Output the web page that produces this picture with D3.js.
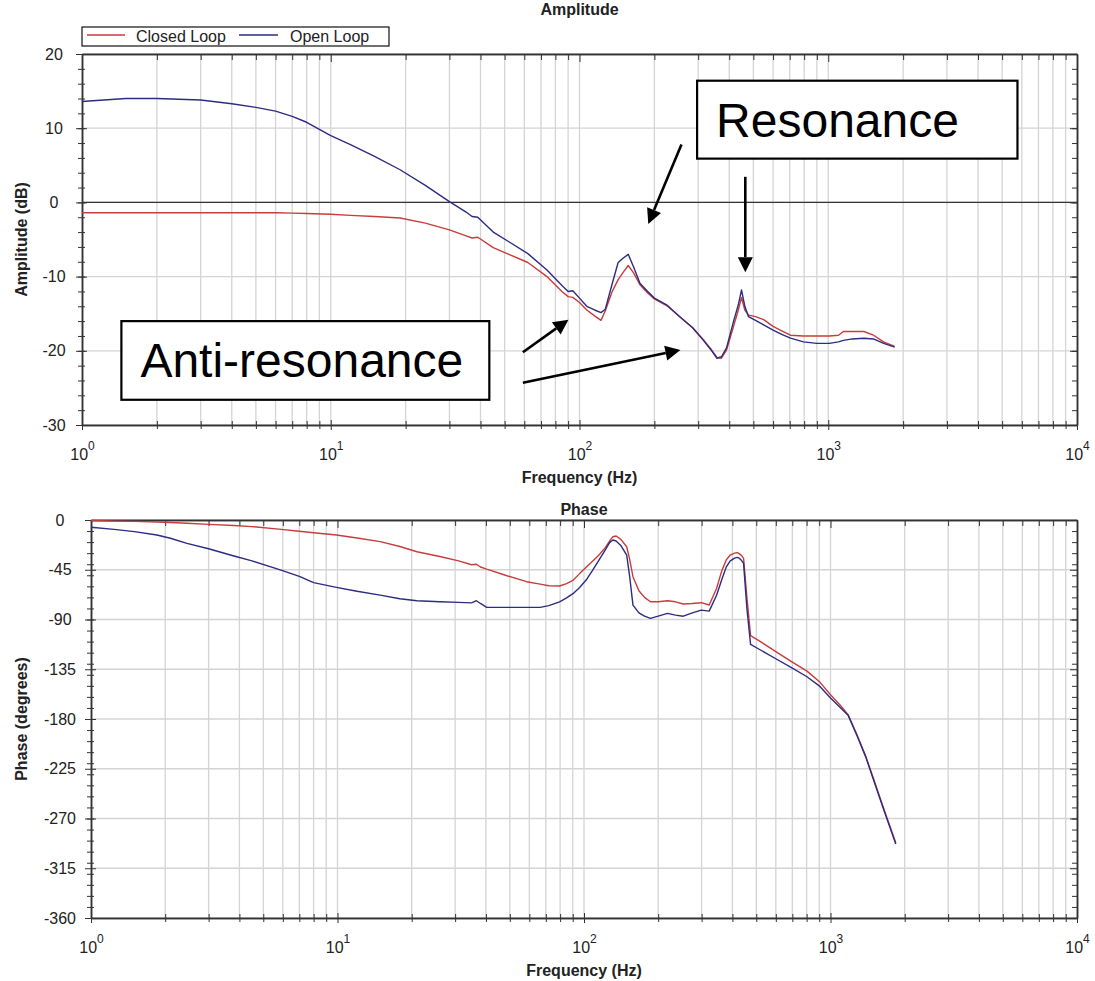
<!DOCTYPE html>
<html>
<head>
<meta charset="utf-8">
<script src="https://cdn.jsdelivr.net/npm/d3@7"></script>
<style>
body { margin: 0; background: #fff; }
svg text { font-family: Arial, "Liberation Sans", sans-serif; }
</style>
</head>
<body>
<svg width="1095" height="981"></svg>
<script>
// --- data ---
const ampFreq = [1, 1.5, 2, 3, 4, 5, 6, 7, 8, 10, 12, 15, 19, 24, 30, 35, 37, 39, 45, 52,
  62, 74, 85, 90, 94, 100, 107, 115, 122, 127, 135, 143, 150, 157, 165, 175, 188, 200, 224, 253,
  285, 313, 340, 357, 372, 390, 418, 435, 448, 462, 478, 510, 550, 600, 650, 705, 795, 900, 1010, 1100,
  1150, 1250, 1390, 1520, 1670, 1850];
const ampClosed = [-1.4, -1.4, -1.4, -1.4, -1.4, -1.4, -1.4, -1.45, -1.5, -1.6, -1.75, -1.9, -2.1, -2.8, -3.7, -4.5, -4.8, -4.7, -6.1, -7.0,
  -8.1, -10.0, -12.0, -12.7, -12.8, -13.5, -14.5, -15.3, -15.9, -14.6, -12.1, -10.4, -9.4, -8.5, -9.5, -11.1, -12.2, -13.0, -13.9, -15.4,
  -16.9, -18.4, -19.9, -20.9, -21.0, -19.9, -16.5, -14.5, -12.8, -14.5, -15.2, -15.4, -15.8, -16.7, -17.3, -17.9, -18.0, -18.0, -18.0, -17.9,
  -17.4, -17.4, -17.4, -17.9, -18.8, -19.4];
const ampOpen = [13.6, 14.0, 14.0, 13.8, 13.3, 12.8, 12.3, 11.6, 10.8, 9.0, 7.8, 6.2, 4.4, 2.3, 0.1, -1.3, -1.9, -2.0, -4.0, -5.3,
  -6.9, -9.1, -11.2, -12.0, -11.9, -12.9, -14.0, -14.5, -14.85, -14.4, -11.1, -8.1, -7.5, -7.0, -8.7, -10.9, -12.0, -12.9, -13.8, -15.4,
  -16.9, -18.5, -20.0, -21.0, -20.8, -19.6, -15.8, -13.8, -11.8, -14.0, -15.4, -15.9, -16.5, -17.2, -17.8, -18.3, -18.8, -19.0, -19.0, -18.8,
  -18.6, -18.4, -18.3, -18.4, -19.0, -19.5];

const phaseFreq = [1, 1.24, 1.5, 1.85, 2.1, 2.45, 3, 3.8, 4.5, 5.9, 7, 8, 9.9, 12, 14.9, 17.9, 21, 26, 31, 35,
  36.6, 38, 40.3, 48, 58.5, 66.4, 72, 79.6, 85, 90.5, 96, 102, 108, 115, 122, 127, 131, 135, 141, 149,
  153, 158, 167, 176, 186, 200, 218, 235, 253, 275, 299, 322, 345, 362, 378, 392, 408, 418, 424, 435,
  444, 458, 474, 520, 600, 700, 803, 900, 1000, 1100, 1178, 1280, 1391, 1500, 1650, 1840];
const phaseClosed = [-0.5, -1, -1.2, -1.8, -2.2, -3.0, -4.0, -5.0, -6.0, -8.5, -10.2, -11.5, -13.6, -16.3, -19.6, -24, -28.7, -33, -37, -40.5,
  -40, -42.5, -44.5, -50, -55.8, -58, -59.5, -59.7, -57.5, -54.3, -48.5, -42.8, -37.5, -31.7, -25, -19, -15.1, -14.5, -17.5, -24.2,
  -35, -51.3, -64, -70, -74, -74, -73, -74, -76, -75.5, -74.8, -76.9, -62, -46, -36, -31.7, -30, -29.5, -30.2, -32,
  -34.7, -70, -104.6, -110, -119, -128.5, -136.7, -146, -158, -168, -176, -194, -214, -235, -262, -292];
const phaseOpen = [-6.6, -8.5, -10.5, -13.6, -16.5, -21.2, -26, -32.6, -37, -45.3, -51, -56.7, -61, -64.5, -67.9, -71.2, -73, -74, -74.5, -75,
  -73, -75.5, -79, -79, -79, -79, -77.5, -74, -70.5, -66.4, -61, -54.3, -46, -36.2, -27, -20.5, -18.1, -19, -23, -31.7,
  -50, -77, -84, -87, -89, -87, -84.5, -86, -87, -84, -81.5, -82.4, -68, -54, -42.3, -37, -34.5, -33.8, -34.2, -36.5,
  -39.2, -80, -112.5, -117.6, -125.5, -134, -141.8, -150, -161, -170, -176.5, -195, -214.5, -236, -263, -293];

const seriesNames = ["Closed Loop", "Open Loop"];
const seriesColors = ["#c83c3c", "#2c2c82"];
const decadeTicks = [1, 10, 100, 1000, 10000];
const ampTicks = [20, 10, 0, -10, -20, -30];
const phaseTicks = [0, -45, -90, -135, -180, -225, -270, -315, -360];

// annotations, in chart units (Hz, dB)
const noteBoxes = [
  {text: "Resonance", f: [297, 5763], db: [16.4, 5.9]},
  {text: "Anti-resonance", f: [1.44, 43.4], db: [-16.0, -26.6]}
];
const noteArrows = [
  {from: [257, 7.8], to: [189, -2.9]},
  {from: [464, 3.45], to: [464, -9.4]},
  {from: [59.2, -20.2], to: [90.3, -15.8]},
  {from: [59.2, -24.3], to: [254.5, -19.9]}
];

// --- drawing ---
const svg = d3.select("svg");
const axisColor = "#333";
const gridColor = "#d4d4d4";

const xMinor = [];
for (let d = 1; d < 10000; d *= 10) for (let k = 2; k < 10; k++) xMinor.push(d * k);

function styleAxis(a, w) {
  a.attr("font-size", 16).attr("font-family", null);
  a.selectAll("path, line").attr("stroke", axisColor);
  a.select(".domain").attr("stroke-width", w || 1.5);
  a.selectAll("text").attr("fill", "#222");
}

function drawPanel(p) {
  const x = d3.scaleLog().domain([1, 10000]).range([p.left, p.right]);
  const y = d3.scaleLinear().domain(p.yDomain).range([p.bottom, p.top]);
  const yMinor = d3.range(p.yDomain[0], p.yDomain[1] + 0.001, p.yStep);
  const g = svg.append("g");

  // grid
  g.append("g").selectAll("line").data(xMinor.concat([10, 100, 1000])).join("line")
    .attr("x1", d => x(d)).attr("x2", d => x(d))
    .attr("y1", p.top).attr("y2", p.bottom)
    .attr("stroke", gridColor).attr("stroke-width", 1.3);
  g.append("g").selectAll("line").data(p.yTicks).join("line")
    .attr("x1", p.left).attr("x2", p.right)
    .attr("y1", d => y(d)).attr("y2", d => y(d))
    .attr("stroke", gridColor).attr("stroke-width", 1.3);

  if (p.zeroLine) {
    g.append("line")
      .attr("x1", p.left).attr("x2", p.right)
      .attr("y1", y(0)).attr("y2", y(0))
      .attr("stroke", axisColor).attr("stroke-width", 1.2);
  }

  // top + right (inward ticks)
  g.append("g").attr("transform", `translate(0,${p.top})`)
    .call(d3.axisTop(x).tickValues(xMinor).tickSize(-6).tickSizeOuter(0).tickFormat(""))
    .call(styleAxis);
  g.append("g").attr("transform", `translate(0,${p.top})`)
    .call(d3.axisTop(x).tickValues(decadeTicks).tickSize(-8).tickSizeOuter(0).tickFormat(""))
    .call(styleAxis);
  g.append("g").attr("transform", `translate(${p.right},0)`)
    .call(d3.axisRight(y).tickValues(yMinor).tickSize(-5).tickSizeOuter(0).tickFormat(""))
    .call(styleAxis);
  g.append("g").attr("transform", `translate(${p.right},0)`)
    .call(d3.axisRight(y).tickValues(p.yTicks).tickSize(-7).tickSizeOuter(0).tickFormat(""))
    .call(styleAxis);

  // bottom
  g.append("g").attr("transform", `translate(0,${p.bottom})`)
    .call(d3.axisBottom(x).tickValues(xMinor).tickSize(4).tickSizeOuter(0).tickFormat(""))
    .call(styleAxis)
    .call(a => a.selectAll(".tick line").attr("y1", -4));
  g.append("g").attr("transform", `translate(0,${p.bottom})`)
    .call(d3.axisBottom(x).tickValues(decadeTicks).tickSize(5).tickSizeOuter(0))
    .call(styleAxis)
    .call(a => a.selectAll(".tick line").attr("y1", -5))
    .call(a => a.selectAll(".tick text").text(null)
      .attr("y", 35).attr("dy", null).attr("text-anchor", "middle")
      .each(function(d) {
        const t = d3.select(this);
        t.append("tspan").text("10");
        t.append("tspan").attr("dy", -10).attr("font-size", 12).text(Math.round(Math.log10(d)));
      }));

  // left
  g.append("g").attr("transform", `translate(${p.left},0)`)
    .call(d3.axisLeft(y).tickValues(yMinor).tickSize(4).tickSizeOuter(0).tickFormat(""))
    .call(styleAxis)
    .call(a => a.selectAll(".tick line").attr("x1", 3));
  g.append("g").attr("transform", `translate(${p.left},0)`)
    .call(d3.axisLeft(y).tickValues(p.yTicks).tickSize(6).tickSizeOuter(0).tickFormat(d => String(d)))
    .call(styleAxis)
    .call(a => a.selectAll(".tick line").attr("x1", 5))
    .call(a => a.selectAll(".tick text").attr("x", -p.labelOffset).attr("text-anchor", "middle"));

  // curves
  const line = d3.line().x(d => x(d[0])).y(d => y(d[1]));
  p.series.forEach((vals, i) => {
    g.append("path")
      .datum(p.freq.map((f, j) => [f, vals[j]]))
      .attr("d", line)
      .attr("fill", "none")
      .attr("stroke", seriesColors[i])
      .attr("stroke-width", 1.4)
      .attr("stroke-linejoin", "round");
  });

  // titles
  const mid = (p.left + p.right) / 2;
  g.append("text").attr("x", mid).attr("y", p.titleY)
    .attr("text-anchor", "middle").attr("font-size", 16).attr("font-weight", "bold")
    .attr("fill", "#222").text(p.title);
  g.append("text").attr("x", mid).attr("y", p.bottom + 58)
    .attr("text-anchor", "middle").attr("font-size", 16).attr("font-weight", "bold")
    .attr("fill", "#222").text("Frequency (Hz)");
  g.append("text")
    .attr("transform", `translate(27,${(p.top + p.bottom) / 2}) rotate(-90)`)
    .attr("text-anchor", "middle").attr("font-size", 16).attr("font-weight", "bold")
    .attr("fill", "#222").text(p.yLabel);

  return {x, y, g};
}

const ampPanel = drawPanel({
  left: 82, right: 1077, top: 54, bottom: 425,
  yDomain: [-30, 20], yStep: 2, yTicks: ampTicks, labelOffset: 28, zeroLine: true,
  freq: ampFreq, series: [ampClosed, ampOpen],
  title: "Amplitude", titleY: 15, yLabel: "Amplitude (dB)"
});

drawPanel({
  left: 91, right: 1077, top: 520, bottom: 918,
  yDomain: [-360, 0], yStep: 10, yTicks: phaseTicks, labelOffset: 31,
  freq: phaseFreq, series: [phaseClosed, phaseOpen],
  title: "Phase", titleY: 515, yLabel: "Phase (degrees)"
});

// legend
const leg = svg.append("g");
leg.append("rect").attr("x", 82).attr("y", 27).attr("width", 307).attr("height", 19)
  .attr("fill", "#fff").attr("stroke", "#111").attr("stroke-width", 1.2);
const legX = [[87, 125, 136], [239, 278, 290]];
seriesNames.forEach((name, i) => {
  leg.append("line").attr("x1", legX[i][0]).attr("x2", legX[i][1])
    .attr("y1", 35).attr("y2", 35)
    .attr("stroke", seriesColors[i]).attr("stroke-width", 1.3);
  leg.append("text").attr("x", legX[i][2]).attr("y", 42)
    .attr("font-size", 16).attr("fill", "#222").text(name);
});

// annotations
const nx = ampPanel.x, ny = ampPanel.y;
const notes = svg.append("g");
noteBoxes.forEach(b => {
  const x0 = nx(b.f[0]), x1 = nx(b.f[1]), y0 = ny(b.db[0]), y1 = ny(b.db[1]);
  notes.append("rect").attr("x", x0).attr("y", y0).attr("width", x1 - x0).attr("height", y1 - y0)
    .attr("fill", "#fff").attr("stroke", "#000").attr("stroke-width", 2.2);
  notes.append("text").attr("x", x0 + 19).attr("y", (y0 + y1) / 2 + 17)
    .attr("font-size", 48).attr("fill", "#000").text(b.text);
});
noteArrows.forEach(a => {
  const x0 = nx(a.from[0]), y0 = ny(a.from[1]), x1 = nx(a.to[0]), y1 = ny(a.to[1]);
  const ang = Math.atan2(y1 - y0, x1 - x0);
  const hl = 15, hw = 7.5;
  const bx = x1 - hl * Math.cos(ang), by = y1 - hl * Math.sin(ang);
  notes.append("line").attr("x1", x0).attr("y1", y0).attr("x2", bx).attr("y2", by)
    .attr("stroke", "#000").attr("stroke-width", 2.6);
  notes.append("path")
    .attr("d", `M${x1},${y1}L${bx - hw * Math.sin(ang)},${by + hw * Math.cos(ang)}L${bx + hw * Math.sin(ang)},${by - hw * Math.cos(ang)}Z`)
    .attr("fill", "#000");
});
</script>
</body>
</html>
